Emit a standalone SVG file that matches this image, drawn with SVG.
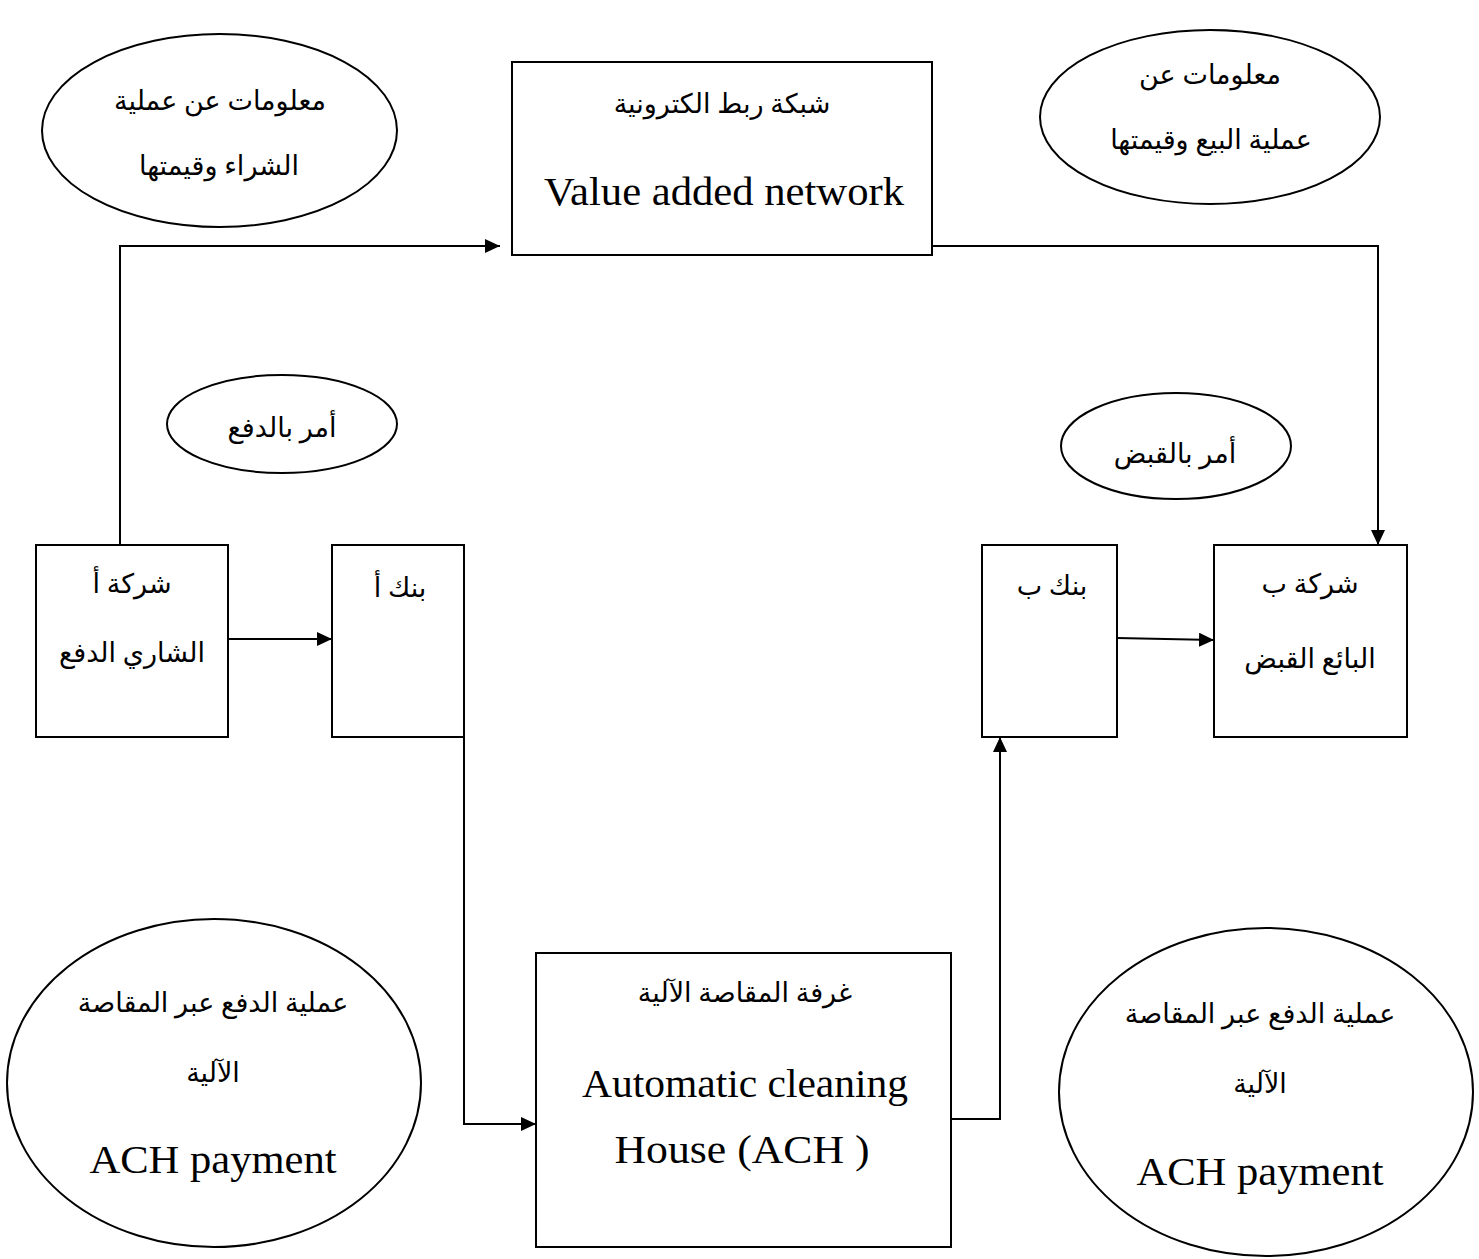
<svg xmlns="http://www.w3.org/2000/svg" width="1479" height="1259" viewBox="0 0 1479 1259">
<style>
.shape{fill:#fff;stroke:#000;stroke-width:2}
.conn{fill:none;stroke:#000;stroke-width:2}
.ar{font-family:'Liberation Serif','DejaVu Sans',serif;font-size:27px;text-anchor:middle;fill:#000}
.en{font-family:'Liberation Serif',serif;font-size:40px;text-anchor:middle;fill:#000}
</style>
<defs>
<marker id="arrow" markerUnits="userSpaceOnUse" markerWidth="16" markerHeight="14" refX="15" refY="7" orient="auto">
<path d="M0,0 L15,7 L0,14 z" fill="#000"/>
</marker>
</defs>
<rect width="1479" height="1259" fill="#fff"/>
<g id="connectors">
<path class="conn" d="M120,545 V246 H500" marker-end="url(#arrow)"/>
<path class="conn" d="M932,246 H1378 V545" marker-end="url(#arrow)"/>
<path class="conn" d="M228,639 H332" marker-end="url(#arrow)"/>
<path class="conn" d="M464,737 V1124 H536" marker-end="url(#arrow)"/>
<path class="conn" d="M951,1119 H1000 V737" marker-end="url(#arrow)"/>
<path class="conn" d="M1117,638 L1214,640" marker-end="url(#arrow)"/>
</g>
<g id="info-purchase">
<ellipse class="shape" cx="219.5" cy="130.5" rx="177.5" ry="96.5"/>
<text class="ar" x="220" y="110">معلومات عن عملية</text>
<text class="ar" x="219" y="175">الشراء وقيمتها</text>
</g>
<g id="van">
<rect class="shape" x="512" y="62" width="420" height="193"/>
<text class="ar" x="722" y="113">شبكة ربط الكترونية</text>
<text class="en" x="724" y="205" textLength="360" lengthAdjust="spacingAndGlyphs">Value added network</text>
</g>
<g id="info-sale">
<ellipse class="shape" cx="1210" cy="117" rx="170" ry="87"/>
<text class="ar" x="1210" y="84">معلومات عن</text>
<text class="ar" x="1211" y="149">عملية البيع وقيمتها</text>
</g>
<g id="order-pay">
<ellipse class="shape" cx="282" cy="424" rx="115" ry="49"/>
<text class="ar" x="282" y="437">أمر بالدفع</text>
</g>
<g id="order-collect">
<ellipse class="shape" cx="1176" cy="446" rx="115" ry="53"/>
<text class="ar" x="1175" y="463">أمر بالقبض</text>
</g>
<g id="company-a">
<rect class="shape" x="36" y="545" width="192" height="192"/>
<text class="ar" x="132" y="593">شركة أ</text>
<text class="ar" x="132" y="662">الشاري الدفع</text>
</g>
<g id="bank-a">
<rect class="shape" x="332" y="545" width="132" height="192"/>
<text class="ar" x="400" y="597">بنك أ</text>
</g>
<g id="bank-b">
<rect class="shape" x="982" y="545" width="135" height="192"/>
<text class="ar" x="1052" y="595">بنك ب</text>
</g>
<g id="company-b">
<rect class="shape" x="1214" y="545" width="193" height="192"/>
<text class="ar" x="1310" y="593">شركة ب</text>
<text class="ar" x="1310" y="668">البائع القبض</text>
</g>
<g id="ach">
<rect class="shape" x="536" y="953" width="415" height="294"/>
<text class="ar" x="745" y="1002">غرفة المقاصة الآلية</text>
<text class="en" x="745" y="1097" textLength="326" lengthAdjust="spacingAndGlyphs">Automatic cleaning</text>
<text class="en" x="742" y="1163" textLength="255" lengthAdjust="spacingAndGlyphs">House (ACH )</text>
</g>
<g id="ach-payment-left">
<ellipse class="shape" cx="214" cy="1083" rx="207" ry="164"/>
<text class="ar" x="213" y="1012">عملية الدفع عبر المقاصة</text>
<text class="ar" x="213" y="1082">الآلية</text>
<text class="en" x="213" y="1173" textLength="247" lengthAdjust="spacingAndGlyphs">ACH payment</text>
</g>
<g id="ach-payment-right">
<ellipse class="shape" cx="1266" cy="1092" rx="207" ry="164"/>
<text class="ar" x="1260" y="1023">عملية الدفع عبر المقاصة</text>
<text class="ar" x="1260" y="1093">الآلية</text>
<text class="en" x="1260" y="1185" textLength="247" lengthAdjust="spacingAndGlyphs">ACH payment</text>
</g>
</svg>
